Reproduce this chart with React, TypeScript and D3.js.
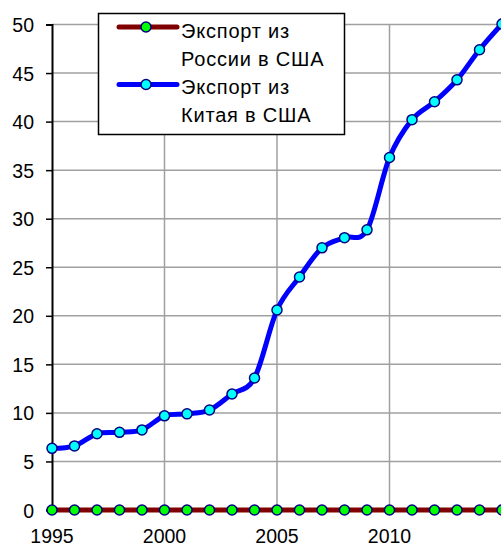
import { useEffect, useRef } from 'react';
import * as d3 from 'd3';

const years = d3.range(1995, 2016);
const chinaExports = [6.35, 6.6, 7.85, 8.0, 8.25, 9.7, 9.9, 10.3, 11.95, 13.6, 20.6, 24.0, 27.0, 28.05, 28.85, 36.3, 40.2, 42.05, 44.3, 47.4, 50.05];
const russiaExports = [0, 0, 0, 0, 0, 0, 0, 0, 0, 0, 0, 0, 0, 0, 0, 0, 0, 0, 0, 0, 0];
const yTicks = [0, 5, 10, 15, 20, 25, 30, 35, 40, 45, 50];
const xTicks = [1995, 2000, 2005, 2010];
const gridYears = [2000, 2005, 2010, 2015];
const legendLabels = [
  ['Экспорт из', 'России в США'],
  ['Экспорт из', 'Китая в США'],
];

export default function App() {
  const svgRef = useRef<SVGSVGElement>(null);

  useEffect(() => {
    if (!svgRef.current) return;
    const svg = d3.select(svgRef.current);
    svg.selectAll('*').remove();

    const font = '"Liberation Sans", Arial, sans-serif';
    const x = d3.scaleLinear().domain([1995, 2015]).range([52, 502]);
    const y = d3.scaleLinear().domain([0, 50]).range([510, 24.5]);

    // Grid
    const grid = svg.append('g').attr('stroke', '#a0a0a0').attr('stroke-width', 1.5);
    yTicks.filter(t => t > 0).forEach(t => {
      grid.append('line').attr('x1', 52).attr('x2', 501).attr('y1', y(t)).attr('y2', y(t));
    });
    gridYears.forEach(yr => {
      grid.append('line').attr('x1', x(yr)).attr('x2', x(yr)).attr('y1', y(50)).attr('y2', y(0));
    });

    // Y axis
    const yAxis = svg.append('g')
      .attr('transform', `translate(52,0)`)
      .call(d3.axisLeft(y).tickValues(yTicks).tickSize(6).tickPadding(12).tickFormat(d3.format('d')));
    yAxis.select('.domain').attr('stroke', '#000').attr('stroke-width', 2);
    yAxis.selectAll('.tick line').attr('stroke', '#000').attr('stroke-width', 1.5);
    yAxis.selectAll('text')
      .style('font-family', font).style('font-size', '19.5px').attr('fill', '#000').attr('dy', '0.36em');

    // X labels
    svg.append('g').selectAll('text').data(xTicks).enter().append('text')
      .attr('x', d => x(d)).attr('y', 543)
      .attr('text-anchor', 'middle')
      .style('font-family', font).style('font-size', '19.5px')
      .text(d => d);

    const line = d3.line<number>()
      .x((_, i) => x(years[i]))
      .y(d => y(d))
      .curve(d3.curveCardinal.tension(0));

    const series = [
      { values: russiaExports, color: '#800000', marker: '#00ff00' },
      { values: chinaExports, color: '#0000ff', marker: '#00ffff' },
    ];

    series.forEach(s => {
      svg.append('path').datum(s.values)
        .attr('fill', 'none').attr('stroke', s.color).attr('stroke-width', 5)
        .attr('d', line);
      svg.append('g').selectAll('circle').data(s.values).enter().append('circle')
        .attr('cx', (_, i) => x(years[i])).attr('cy', d => y(d))
        .attr('r', 5).attr('fill', s.marker).attr('stroke', '#000080').attr('stroke-width', 1.5);
    });

    // Legend
    const legend = svg.append('g');
    legend.append('rect')
      .attr('x', 98.5).attr('y', 13.5).attr('width', 246).attr('height', 121)
      .attr('fill', '#fff').attr('stroke', '#000').attr('stroke-width', 1.5);
    series.forEach((s, i) => {
      const ly = 27 + i * 57.5;
      legend.append('line').attr('x1', 119).attr('x2', 177).attr('y1', ly).attr('y2', ly)
        .attr('stroke', s.color).attr('stroke-width', 5).attr('stroke-linecap', 'round');
      legend.append('circle').attr('cx', 146).attr('cy', ly).attr('r', 5)
        .attr('fill', s.marker).attr('stroke', '#000080').attr('stroke-width', 1.5);
      legendLabels[i].forEach((txt, j) => {
        legend.append('text')
          .attr('x', 181).attr('y', 37.5 + i * 56.5 + j * 28)
          .style('font-family', font).style('font-size', '20px')
          .style('letter-spacing', '0.8px')
          .text(txt);
      });
    });
  }, []);

  return (
    <div style={{ position: 'absolute', left: 0, top: 0 }}>
      <svg ref={svgRef} width={501} height={544} style={{ display: 'block', background: '#fff' }} />
    </div>
  );
}
